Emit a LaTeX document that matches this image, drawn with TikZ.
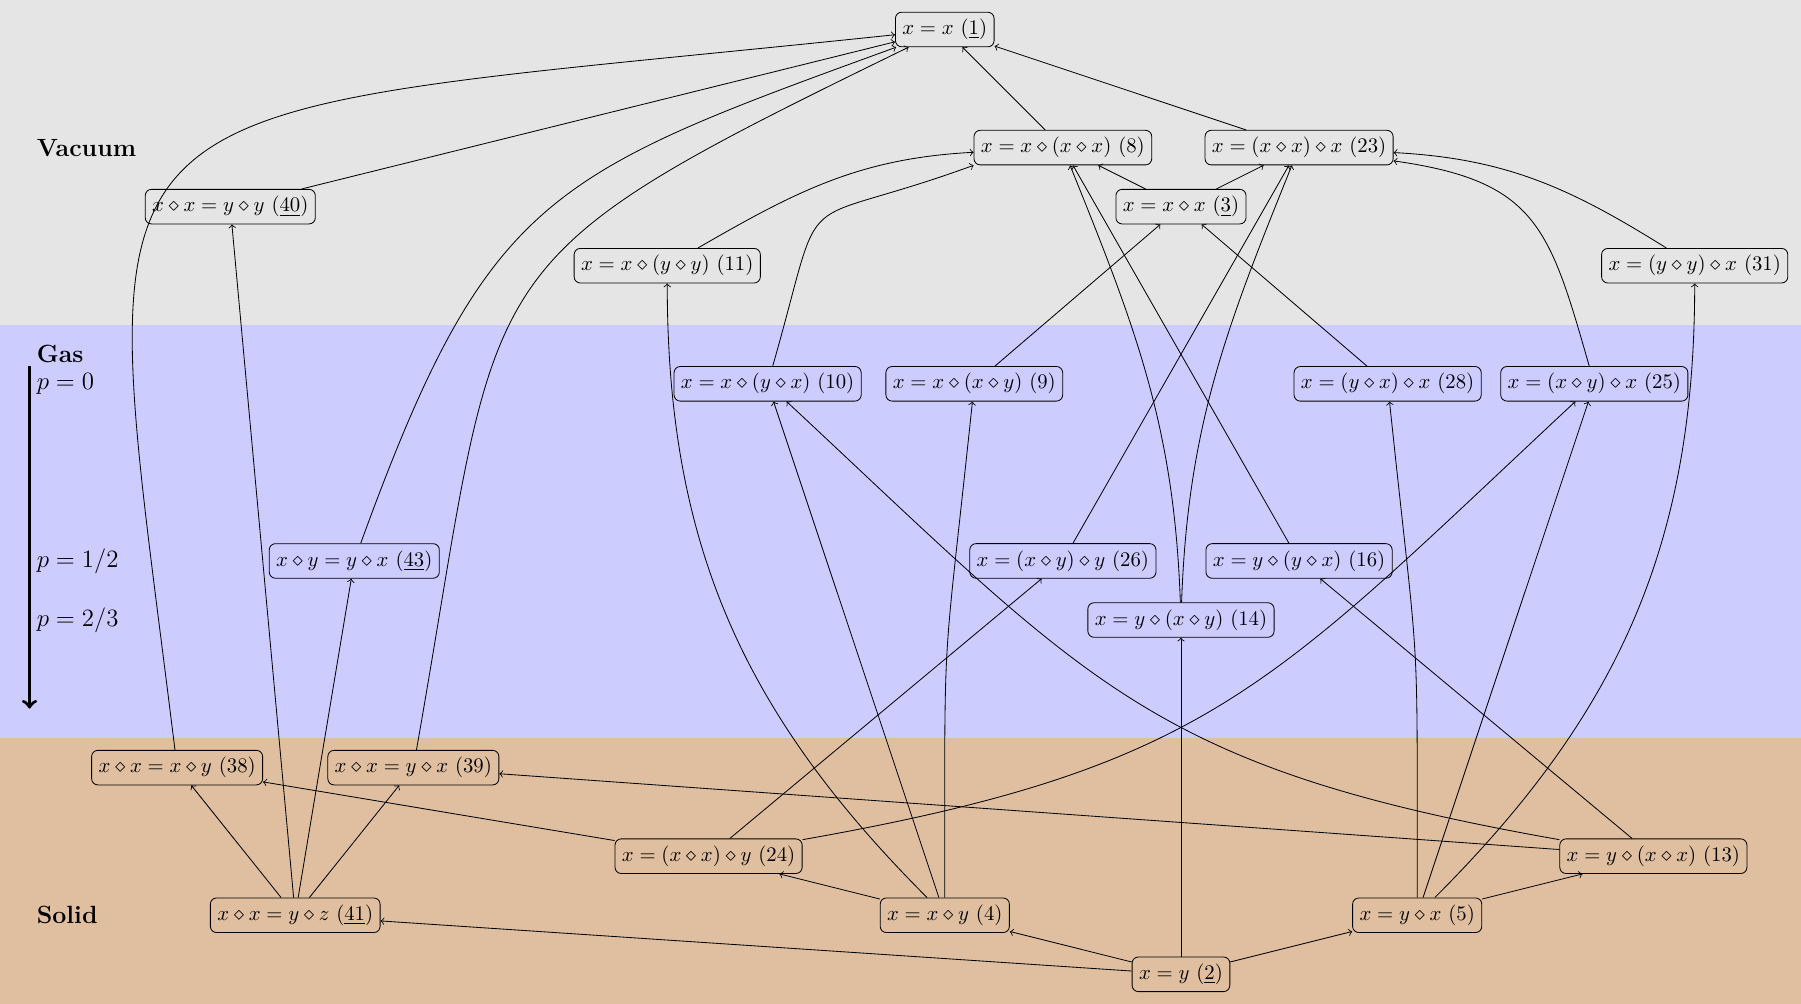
\documentclass[tikz,border=0pt]{standalone}
\usepackage{amsmath}
\usepackage{amssymb}
\usepackage{xcolor}
\usetikzlibrary{arrows}
\begin{document}
\begin{tikzpicture}[eq/.style={draw,rounded corners=3pt},imp/.style={->}]
      \fill[gray!20] (-20,11) rectangle (10.5,16.5);
      \fill[blue!20] (-20,4) rectangle (10.5,11);
      \fill[brown!50] (-20,-0.5) rectangle (10.5,4);
      \node (vacuum) at (-19.5,14) [right] {\large\bfseries Vacuum};
      \node (gas) at (-19.5,10.5) [right] {\large\bfseries Gas};
      \node (solid) at (-19.5,1) [right] {\large\bfseries Solid};
      \node (p0) at (-19.5,10) [right] {\large $p = 0$};
      \node (p12) at (-19.5,7) [right] {\large $p = 1/2$};
      \node (p23) at (-19.5,6) [right] {\large $p = 2/3$};
      \coordinate (ptop) at (-19.5,10.3);
      \coordinate (pbot) at (-19.5,4.5);
      \draw[->,ultra thick] (ptop) -- (pbot);
      \node (e1) at (-4,16) [eq] {$x = x$ (\underline{1})};
      \node (e8) at (-2,14) [eq] {$x = x \diamond (x \diamond x)$ (8)};
      \node (e23) at (2,14) [eq] {$x = (x \diamond x) \diamond x$ (23)};
      \node (e3) at (0,13) [eq] {$x = x \diamond x$ (\underline{3})};
      \node (e40) at (-16.1,13) [eq] {$x \diamond x = y \diamond y$ (\underline{40})};
      \node (e11) at (-8.7,12) [eq] {$x = x \diamond (y \diamond y)$ (11)};
      \node (e31) at (8.7,12) [eq] {$x = (y \diamond y) \diamond x$ (31)};
      \node (e10) at (-7,10) [eq] {$x = x \diamond (y \diamond x)$ (10)};
      \node (e9) at (-3.5,10) [eq] {$x = x \diamond (x \diamond y)$ (9)};
      \node (e28) at (3.5,10) [eq] {$x = (y \diamond x) \diamond x$ (28)};
      \node (e25) at (7,10) [eq] {$x = (x \diamond y) \diamond x$ (25)};
      \node (e43) at (-14,7) [eq] {$x \diamond y = y \diamond x$ (\underline{43})};
      \node (e26) at (-2,7) [eq] {$x = (x \diamond y) \diamond y$ (26)};
      \node (e16) at (2,7) [eq] {$x = y \diamond (y \diamond x)$ (16)};
      \node (e14) at (0,6) [eq] {$x = y \diamond (x \diamond y)$ (14)};
      \node (e38) at (-17,3.5) [eq] {$x \diamond x = x \diamond y$ (38)};
      \node (e39) at (-13,3.5) [eq] {$x \diamond x = y \diamond x$ (39)};
      \node (e24) at (-8,2) [eq] {$x = (x \diamond x) \diamond y$ (24)};
      \node (e13) at (8,2) [eq] {$x = y \diamond (x \diamond x)$ (13)};
      \node (e41) at (-15,1) [eq] {$x \diamond x = y \diamond z$ (\underline{41})};
      \node (e4) at (-4,1) [eq] {$x = x \diamond y$ (4)};
      \node (e5) at (4,1) [eq] {$x = y \diamond x$ (5)};
      \node (e2) at (0,0) [eq] {$x = y$ (\underline{2})};
      \draw[imp] (e38) to[out=97,in=186,out looseness=1.75,in looseness=2.15] (e1);
      \draw[imp] (e40) -- (e1);
      \draw[imp] (e43) to[out=70,in=200,looseness=1.3] (e1);
      \draw[imp] (e39) to[out=80,in=206,looseness=1.5] (e1);
      \draw[imp] (e8) -- (e1);
      \draw[imp] (e23) -- (e1);
      \draw[imp] (e3) -- (e8);
      \draw[imp] (e3) -- (e23);
      \draw[imp] (e11) to[out=30,in=183] (e8);
      \draw[imp] (e10) to[out=74,in=200,looseness=1.8] (e8.south west);
      \draw[imp] (e9) -- (e3);
      \draw[imp] (e28) -- (e3);
      \draw[imp] (e25) to[out=106,in=-8,looseness=1.3] (e23);
      \draw[imp] (e31) to[out=148,in=-3] (e23);
      \draw[imp] (e14) to[out=92,in=-68] (e8);
      \draw[imp] (e14) to[out=88,in=-112] (e23);
      \draw[imp] (e16) -- (e8);
      \draw[imp] (e26) -- (e23);
      \draw[imp] (e41) -- (e40);
      \draw[imp] (e41) -- (e43);
      \draw[imp] (e41) -- (e38);
      \draw[imp] (e41) -- (e39);
      \draw[imp] (e4) to[out=135,in=-90] (e11);
      \draw[imp] (e4) -- (e10);
      \draw[imp] (e4) to[out=90,in=-96,looseness=1.5] (e9);
      \draw[imp] (e4) -- (e24);
      \draw[imp] (e13) to[out=170,in=-43,looseness=1.2] (e10);
      \draw[imp] (e24) to[out=10,in=-137,looseness=1.2] (e25);
      \draw[imp] (e24) -- (e26);
      \draw[imp] (e24) -- (e38);
      \draw[imp] (e13) -- (e16);
      \draw[imp] (e13) -- (e39);
      \draw[imp] (e5) to[out=90,in=-84,looseness=1.5] (e28);
      \draw[imp] (e5) -- (e25);
      \draw[imp] (e5) to[out=45,in=-90] (e31);
      \draw[imp] (e5) -- (e13);
      \draw[imp] (e2) -- (e14);
      \draw[imp] (e2) -- (e4);
      \draw[imp] (e2) -- (e5);
      \draw[imp] (e2) -- (e41);
    \end{tikzpicture}
\end{document}
